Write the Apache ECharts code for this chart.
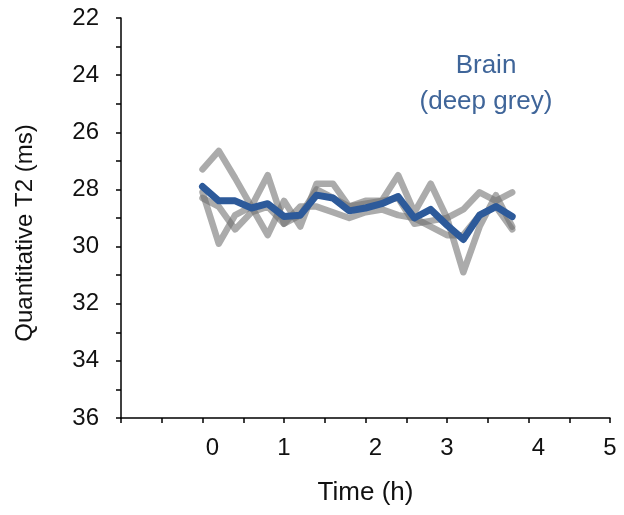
<!DOCTYPE html>
<html><head><meta charset="utf-8">
<script src="https://cdn.jsdelivr.net/npm/echarts@6/dist/echarts.min.js"></script>
<style>html,body{margin:0;padding:0;background:#fff}#c{width:624px;height:515px}</style>
</head><body><div id="c"></div>
<script>
// Time points (h)
const times = [0, 0.2, 0.4, 0.6, 0.8, 1.0, 1.2, 1.4, 1.6, 1.8, 2.0, 2.2, 2.4, 2.6, 2.8, 3.0, 3.2, 3.4, 3.6, 3.8];
// Individual subjects (grey)
const subject1 = [27.3, 26.65, 27.6, 28.6, 29.6, 28.4, 29.3, 27.8, 27.8, 28.6, 28.4, 28.4, 27.5, 28.8, 27.8, 29.0, 30.9, 29.3, 28.2, 29.3];
const subject2 = [28.1, 29.9, 28.9, 28.6, 27.5, 29.2, 28.9, 28.0, 28.3, 28.6, 28.5, 28.4, 28.3, 29.2, 29.1, 29.0, 28.7, 28.1, 28.4, 28.1];
const subject3 = [28.3, 28.6, 29.4, 28.8, 28.6, 29.2, 28.6, 28.6, 28.8, 29.0, 28.8, 28.7, 28.9, 29.0, 29.3, 29.6, 29.6, 28.9, 28.6, 29.4];
// Mean (blue)
const meanT2 = [27.9, 28.4, 28.4, 28.65, 28.5, 28.95, 28.9, 28.2, 28.3, 28.75, 28.65, 28.5, 28.25, 29.0, 28.7, 29.25, 29.75, 28.9, 28.6, 28.95];
const yTicks = [22, 24, 26, 28, 30, 32, 34, 36];
const xTicks = [0, 1, 2, 3, 4, 5];
const xShifted = [0, 2, 4]; // labels drawn slightly right of their tick in the original

const FONT = "'Liberation Sans', Arial, sans-serif";
const greyColor = 'rgba(110,110,110,0.58)';
const blueColor = '#2d5a9a';

function pairs(arr) { return times.map((t, i) => [t, arr[i]]); }
function greySeries(arr) {
  return {
    type: 'line', data: pairs(arr), showSymbol: false, symbol: 'none',
    lineStyle: { color: greyColor, width: 6.5, cap: 'round', join: 'round' },
    z: 2
  };
}

const chart = echarts.init(document.getElementById('c'), null, { renderer: 'canvas' });
chart.setOption({
  animation: false,
  backgroundColor: '#fff',
  grid: { left: 121, right: 14, top: 18, bottom: 97, containLabel: false },
  xAxis: {
    type: 'value', min: -1, max: 5, interval: 1,
    name: 'Time (h)', nameLocation: 'middle', nameGap: 62,
    nameTextStyle: { fontFamily: FONT, fontSize: 26, color: '#111' },
    axisLine: { onZero: false, lineStyle: { color: '#000', width: 1.5 } },
    axisTick: { show: true, inside: false, length: 5, lineStyle: { color: '#000', width: 1.5 } },
    minorTick: { show: true, splitNumber: 2, length: 5, lineStyle: { color: '#000', width: 1.5 } },
    splitLine: { show: false },
    axisLabel: {
      margin: 18, fontFamily: FONT, fontSize: 24, color: '#111',
      formatter: v => xShifted.indexOf(v) >= 0 ? '{s|' + v + '}' : (xTicks.indexOf(v) >= 0 ? String(v) : ''),
      rich: { s: { padding: [0, 0, 0, 20], fontFamily: FONT, fontSize: 24, color: '#111' } }
    }
  },
  yAxis: {
    type: 'value', inverse: true, min: 22, max: 36, interval: 2,
    name: 'Quantitative T2 (ms)', nameLocation: 'middle', nameGap: 84,
    nameRotate: 90,
    nameTextStyle: { fontFamily: FONT, fontSize: 24, color: '#111', padding: [0, 30, 0, 0] },
    axisLine: { onZero: false, lineStyle: { color: '#000', width: 1.5 } },
    axisTick: { show: true, inside: false, length: 5, lineStyle: { color: '#000', width: 1.5 } },
    minorTick: { show: true, splitNumber: 2, length: 5, lineStyle: { color: '#000', width: 1.5 } },
    splitLine: { show: false },
    axisLabel: {
      margin: 22, fontFamily: FONT, fontSize: 24, color: '#111',
      formatter: v => yTicks.indexOf(v) >= 0 ? String(v) : ''
    }
  },
  graphic: [{
    type: 'text', left: 486 - 80, top: 48,
    style: {
      text: 'Brain\n(deep grey)', x: 80, textAlign: 'center',
      font: '26px ' + FONT, lineHeight: 36, fill: '#3f6599', width: 160
    }
  }],
  series: [
    greySeries(subject1),
    greySeries(subject2),
    greySeries(subject3),
    {
      type: 'line', data: pairs(meanT2), showSymbol: false, symbol: 'none',
      lineStyle: { color: blueColor, width: 7, cap: 'round', join: 'round' },
      z: 5
    }
  ]
});
</script>
</body></html>
